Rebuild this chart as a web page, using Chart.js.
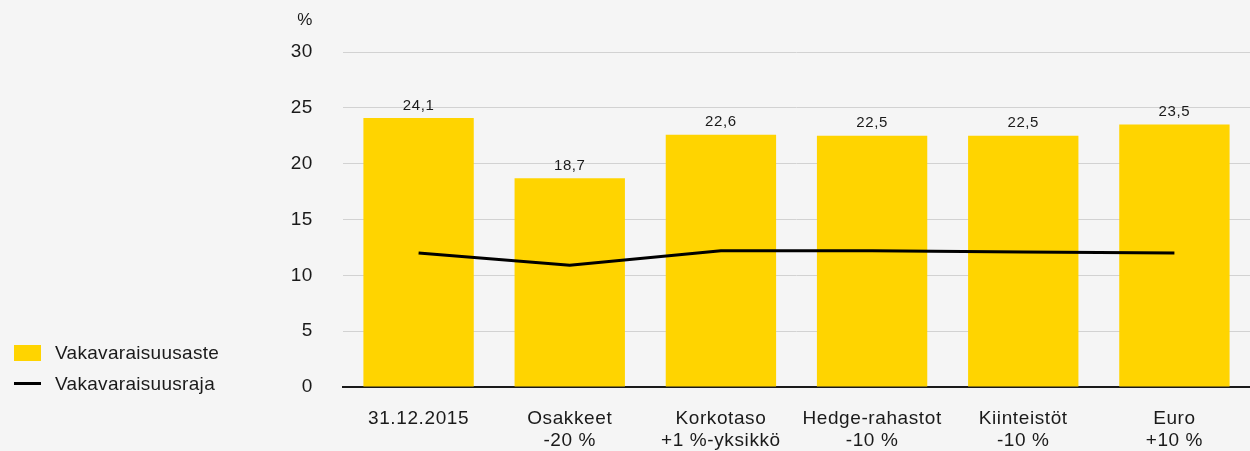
<!DOCTYPE html>
<html>
<head>
<meta charset="utf-8">
<script src="https://cdn.jsdelivr.net/npm/chart.js@4"></script>
<style>
  html, body { margin:0; padding:0; background:#f5f5f5; }
  #wrap { position:relative; width:1250px; height:451px; }
  #legend { position:absolute; left:14px; top:337px; font-family:"Liberation Sans", Arial, sans-serif; font-size:19px; letter-spacing:0.3px; color:#1a1a1a; }
  .row { height:31px; display:flex; align-items:center; }
  .sw { width:27px; margin-right:14px; }
</style>
</head>
<body>
<div id="wrap">
  <canvas id="myChart" width="1250" height="451"></canvas>
  <div id="legend"></div>
</div>
<script>
  // categories (two lines each)
  const labels = [
    ['31.12.2015'],
    ['Osakkeet', '-20 %'],
    ['Korkotaso', '+1 %-yksikkö'],
    ['Hedge-rahastot', '-10 %'],
    ['Kiinteistöt', '-10 %'],
    ['Euro', '+10 %']
  ];
  // solvency ratio (bars)
  const asteValues = [24.1, 18.7, 22.6, 22.5, 22.5, 23.5];
  // solvency limit (line)
  const rajaValues = [12.0, 10.9, 12.2, 12.2, 12.1, 12.0];
  const yTicks = [0, 5, 10, 15, 20, 25, 30];

  const yellow = 'rgb(255, 212, 0)';
  const FONT = '"Liberation Sans", Arial, sans-serif';

  // value labels over the bars + "%" unit on top of y axis
  const extras = {
    id: 'extras',
    beforeDraw(chart) {
      chart.ctx.letterSpacing = '0.6px';
    },
    afterDatasetsDraw(chart) {
      const ctx = chart.ctx;
      const meta = chart.getDatasetMeta(1); // bar dataset
      ctx.save();
      ctx.font = '15px ' + FONT;
      ctx.fillStyle = '#1a1a1a';
      ctx.textAlign = 'center';
      ctx.textBaseline = 'bottom';
      meta.data.forEach((bar, i) => {
        ctx.fillText(asteValues[i].toFixed(1).replace('.', ','), bar.x, bar.y - 5);
      });
      ctx.font = '17px ' + FONT;
      ctx.textBaseline = 'middle';
      ctx.fillText('%', 305, 20);
      ctx.restore();
    }
  };

  const ctx = document.getElementById('myChart').getContext('2d');
  const myChart = new Chart(ctx, {
    type: 'bar',
    data: {
      labels: labels,
      datasets: [
        {
          type: 'line',
          label: 'Vakavaraisuusraja',
          data: rajaValues,
          borderColor: '#000',
          borderWidth: 3,
          pointRadius: 0,
          tension: 0,
          order: 0
        },
        {
          type: 'bar',
          label: 'Vakavaraisuusaste',
          data: asteValues,
          backgroundColor: yellow,
          categoryPercentage: 0.73,
          barPercentage: 1,
          order: 1
        }
      ]
    },
    options: {
      responsive: false,
      animation: false,
      layout: { padding: { top: 52, right: 0, left: 0, bottom: 0 } },
      plugins: { legend: { display: false }, tooltip: { enabled: false } },
      scales: {
        x: {
          grid: { display: false },
          border: { display: true, color: '#1a1a1a', width: 2 },
          ticks: { color: '#1a1a1a', font: { family: FONT, size: 19 }, padding: 12, maxRotation: 0 },
          afterFit(scale) { scale.height = 64; }
        },
        y: {
          min: 0, max: 30,
          afterBuildTicks(scale) { scale.ticks = yTicks.map(v => ({ value: v })); },
          grid: { color: '#d2d2d2', lineWidth: 1, drawTicks: false },
          border: { display: false },
          ticks: { color: '#1a1a1a', font: { family: FONT, size: 19 }, padding: 30 },
          afterFit(scale) { scale.width = 343; }
        }
      }
    },
    plugins: [extras]
  });

  // html legend
  const legend = document.getElementById('legend');
  [['Vakavaraisuusaste', 'box'], ['Vakavaraisuusraja', 'line']].forEach(([name, kind]) => {
    const row = document.createElement('div');
    row.className = 'row';
    const sw = document.createElement('div');
    sw.className = 'sw';
    sw.style.height = kind === 'box' ? '16px' : '3px';
    sw.style.background = kind === 'box' ? yellow : '#000';
    row.appendChild(sw);
    row.appendChild(document.createTextNode(name));
    legend.appendChild(row);
  });
</script>
</body>
</html>
